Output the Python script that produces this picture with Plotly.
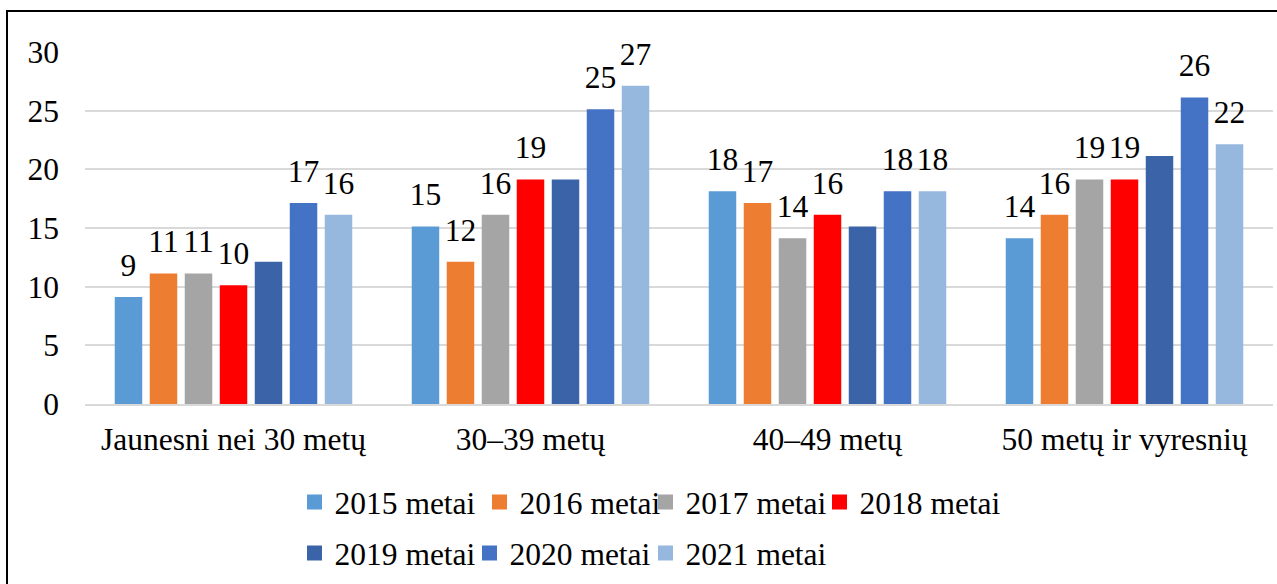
import plotly.graph_objects as go

categories = ["Jaunesni nei 30 metų", "30–39 metų", "40–49 metų", "50 metų ir vyresnių"]
series_names = ["2015 metai", "2016 metai", "2017 metai", "2018 metai",
                "2019 metai", "2020 metai", "2021 metai"]
v2015 = [9, 15, 18, 14]
v2016 = [11, 12, 17, 16]
v2017 = [11, 16, 14, 19]
v2018 = [10, 19, 16, 19]
v2019 = [12, 19, 15, 21]
v2020 = [17, 25, 18, 26]
v2021 = [16, 27, 18, 22]
values = [v2015, v2016, v2017, v2018, v2019, v2020, v2021]
show_labels = [True, True, True, True, False, True, True]
colors = ["#5B9BD5", "#ED7D31", "#A5A5A5", "#FF0000", "#3A63A8", "#4472C4", "#96B8DF"]
y_ticks = [0, 5, 10, 15, 20, 25, 30]

# layout constants (pixels)
FONT = "Liberation Serif"
FS = 31.5
W, H = 1277, 584
ML, MR, MT, MB = 85, 4, 52, 180
LEG_SQ_X = [307, 492, 658, 832, 307, 482, 658]   # left edge of legend swatches
LEG_ROW_Y = [502, 502, 502, 502, 553, 553, 553]   # legend row centres
EDGE = 3
GAP = 0.175

fig = go.Figure()
for i, (name, vals) in enumerate(zip(series_names, values)):
    lg = "legend" if i == 0 else f"legend{i + 1}"
    fig.add_trace(go.Bar(
        x=categories, y=vals, name=name,
        marker=dict(color=colors[i], line=dict(width=EDGE, color=colors[i])),
        legend=lg, showlegend=True,
        hoverinfo="x+y+name",
    ))

# data labels: invisible grouped scatter points aligned with the bar slots
for i, (name, vals) in enumerate(zip(series_names, values)):
    fig.add_trace(go.Scatter(
        x=categories, y=vals, name=name,
        mode="markers+text",
        marker=dict(size=22, color="rgba(0,0,0,0)"),
        text=[str(v) for v in vals] if show_labels[i] else None,
        textposition="top center",
        textfont=dict(family=FONT, size=FS, color="#000000"),
        cliponaxis=False, showlegend=False, hoverinfo="skip",
    ))

pw = W - ML - MR
ph = H - MT - MB
bx0 = (7 - ML) / pw
by1 = (H - MB - 11) / ph
bx1 = (W + 20 - ML) / pw
fig.add_shape(type="rect", xref="paper", yref="paper",
              x0=bx0, x1=bx1, y0=-0.9, y1=by1,
              line=dict(color="#000000", width=2), fillcolor="rgba(0,0,0,0)", layer="above")

legends = {}
for i in range(len(series_names)):
    key = "legend" if i == 0 else f"legend{i + 1}"
    legends[key] = dict(
        orientation="h", xref="container", yref="container",
        x=(LEG_SQ_X[i] - 12.5) / W, y=1 - LEG_ROW_Y[i] / H,
        xanchor="left", yanchor="middle",
        font=dict(family=FONT, size=FS, color="#000000"),
        bgcolor="rgba(0,0,0,0)", itemclick=False, itemdoubleclick=False,
    )

fig.update_layout(
    width=W, height=H, showlegend=True,
    margin=dict(l=ML, r=MR, t=MT, b=MB, autoexpand=False),
    paper_bgcolor="white", plot_bgcolor="white",
    barmode="group", bargap=GAP, bargroupgap=0.30,
    scattermode="group", scattergap=GAP,
    font=dict(family=FONT, size=FS, color="#000000"),
    xaxis=dict(showgrid=False, showline=True, linecolor="#D9D9D9", linewidth=1.5,
               ticks="", tickfont=dict(family=FONT, size=FS, color="#000000"),
               ticklabelstandoff=6, fixedrange=True),
    yaxis=dict(range=[0, 30], tickvals=y_ticks, showgrid=True, gridcolor="#D9D9D9",
               gridwidth=1.5, zeroline=False, showline=False, ticks="",
               tickfont=dict(family=FONT, size=FS, color="#000000"),
               ticklabelstandoff=25, fixedrange=True),
    **legends,
)

fig.write_html("out.html", config={"displayModeBar": False},
               post_script="document.body.style.margin='0';")
